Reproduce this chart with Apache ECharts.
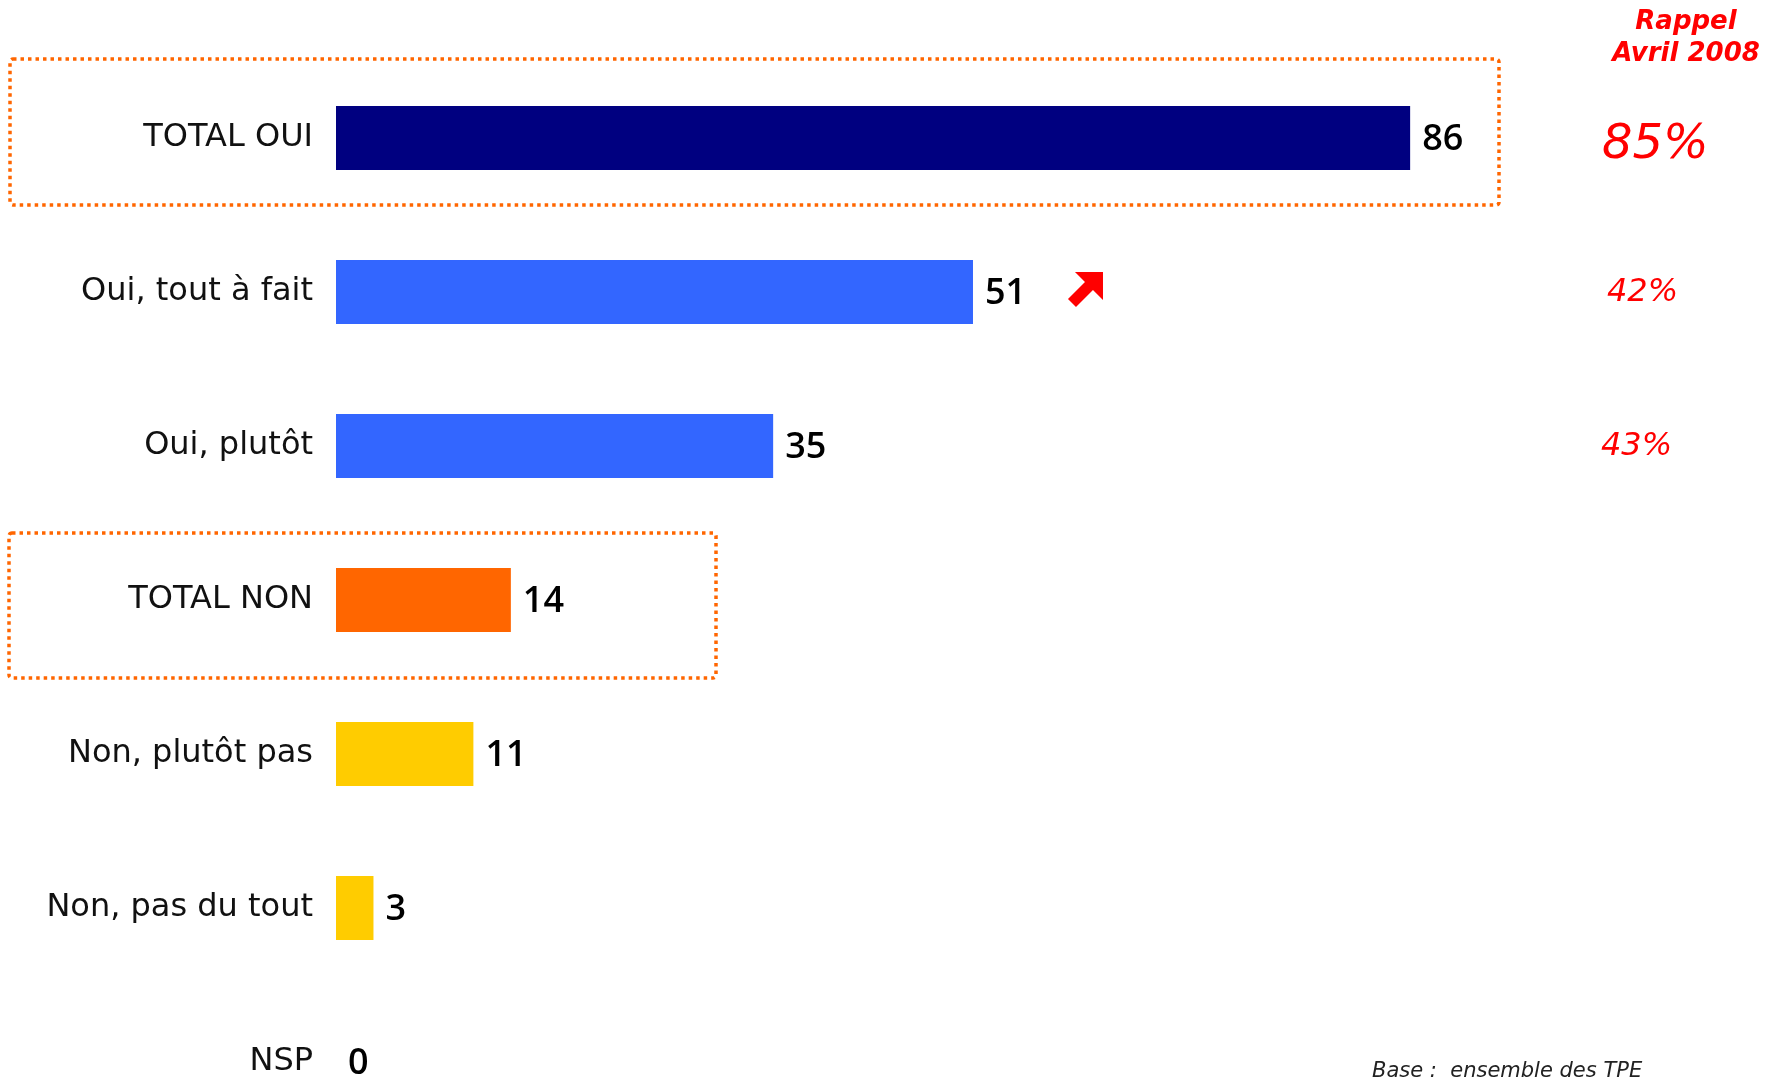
<!DOCTYPE html>
<html>
<head>
<meta charset="utf-8">
<style>
  html, body { margin: 0; padding: 0; background: #ffffff; }
  #chart { width: 1769px; height: 1079px; }
</style>
<script src="https://cdn.jsdelivr.net/npm/echarts@6/dist/echarts.min.js"></script>
</head>
<body>
<div id="chart"></div>
<script>
// Survey answers (percent), top to bottom
const categories = ['TOTAL OUI', 'Oui, tout à fait', 'Oui, plutôt', 'TOTAL NON', 'Non, plutôt pas', 'Non, pas du tout', 'NSP'];
const values = [86, 51, 35, 14, 11, 3, 0];
// Reminder of the April 2008 wave, for the first three rows
const rappelCategories = ['TOTAL OUI', 'Oui, tout à fait', 'Oui, plutôt'];
const rappelValues = [85, 42, 43];
const rappelTitle = ['Rappel', 'Avril 2008'];
const baseNote = 'Base :  ensemble des TPE';

const barColors = ['#000080', '#3366FF', '#3366FF', '#FF6600', '#FFCC00', '#FFCC00', '#FFCC00'];
const FONT = '"DejaVu Sans", Verdana, sans-serif';
const NUM_FONT = '"Open Sans", "DejaVu Sans", sans-serif';

const chart = echarts.init(document.getElementById('chart'), null, { renderer: 'canvas' });

chart.setOption({
  animation: false,
  backgroundColor: '#ffffff',
  grid: { left: 336, width: 1249, top: 138, bottom: 17, containLabel: false },
  xAxis: { type: 'value', min: 0, max: 100, show: false },
  yAxis: {
    type: 'category',
    data: categories,
    inverse: true,
    boundaryGap: false,
    axisLine: { show: false },
    axisTick: { show: false },
    splitLine: { show: false },
    axisLabel: { margin: 23, fontSize: 32, fontFamily: FONT, color: '#111111' }
  },
  series: [{
    type: 'bar',
    barWidth: 64,
    data: values.map((v, i) => ({ value: v, itemStyle: { color: barColors[i] } })),
    label: {
      show: true,
      position: 'right',
      distance: 12,
      fontSize: 36,
      fontWeight: 600,
      fontFamily: NUM_FONT,
      color: '#000000',
      offset: [0, 2]
    }
  }]
});

// Annotations placed from the axis scales
function rowY(cat) { return chart.convertToPixel({ yAxisIndex: 0 }, cat); }
function valX(v) { return chart.convertToPixel({ xAxisIndex: 0 }, v); }

const graphics = [];
const dotted = { fill: 'none', stroke: '#FF6600', lineWidth: 3.5, lineDash: [3.5, 4] };

// Dotted frames around the two totals
const yOui = rowY('TOTAL OUI');
graphics.push({ type: 'rect', shape: { x: 10, y: yOui - 79, width: 1489, height: 146, r: 3 }, style: dotted, silent: true });
const yNon = rowY('TOTAL NON');
graphics.push({ type: 'rect', shape: { x: 9, y: yNon - 67, width: 707, height: 145, r: 3 }, style: dotted, silent: true });

// Rising arrow next to "Oui, tout à fait" (tip at top-right)
const yTout = rowY('Oui, tout à fait');
const tipX = valX(values[1]) + 130, tipY = yTout - 20;
const arrowPts = [[0, 0], [0, 28], [-10, 18], [-27, 35], [-35, 27], [-18, 10], [-28, 0]]
  .map(p => [tipX + p[0], tipY + p[1]]);
graphics.push({ type: 'polygon', shape: { points: arrowPts }, style: { fill: '#FF0000' }, silent: true });

// "Rappel Avril 2008" header
rappelTitle.forEach((t, i) => {
  graphics.push({
    type: 'text', x: 1686, y: 22 + i * 32,
    style: { text: t, fill: '#FF0000', font: 'italic bold 26px ' + FONT, align: 'center', verticalAlign: 'middle' },
    silent: true
  });
});

// Reminder values
const rappelX = [1602, 1607, 1601];
rappelCategories.forEach((c, i) => {
  const big = i === 0;
  graphics.push({
    type: 'text', x: rappelX[i], y: rowY(c) + (big ? 8 : 1),
    style: {
      text: rappelValues[i] + '%', fill: '#FF0000',
      font: 'italic ' + (big ? '48px ' : '32px ') + FONT,
      align: 'left', verticalAlign: 'middle'
    },
    silent: true
  });
});

// Base note
graphics.push({
  type: 'text', x: 1372, y: 1072,
  style: { text: baseNote, fill: '#222222', font: 'italic 21px ' + FONT, align: 'left', verticalAlign: 'middle' },
  silent: true
});

chart.setOption({ graphic: graphics });
</script>
</body>
</html>
